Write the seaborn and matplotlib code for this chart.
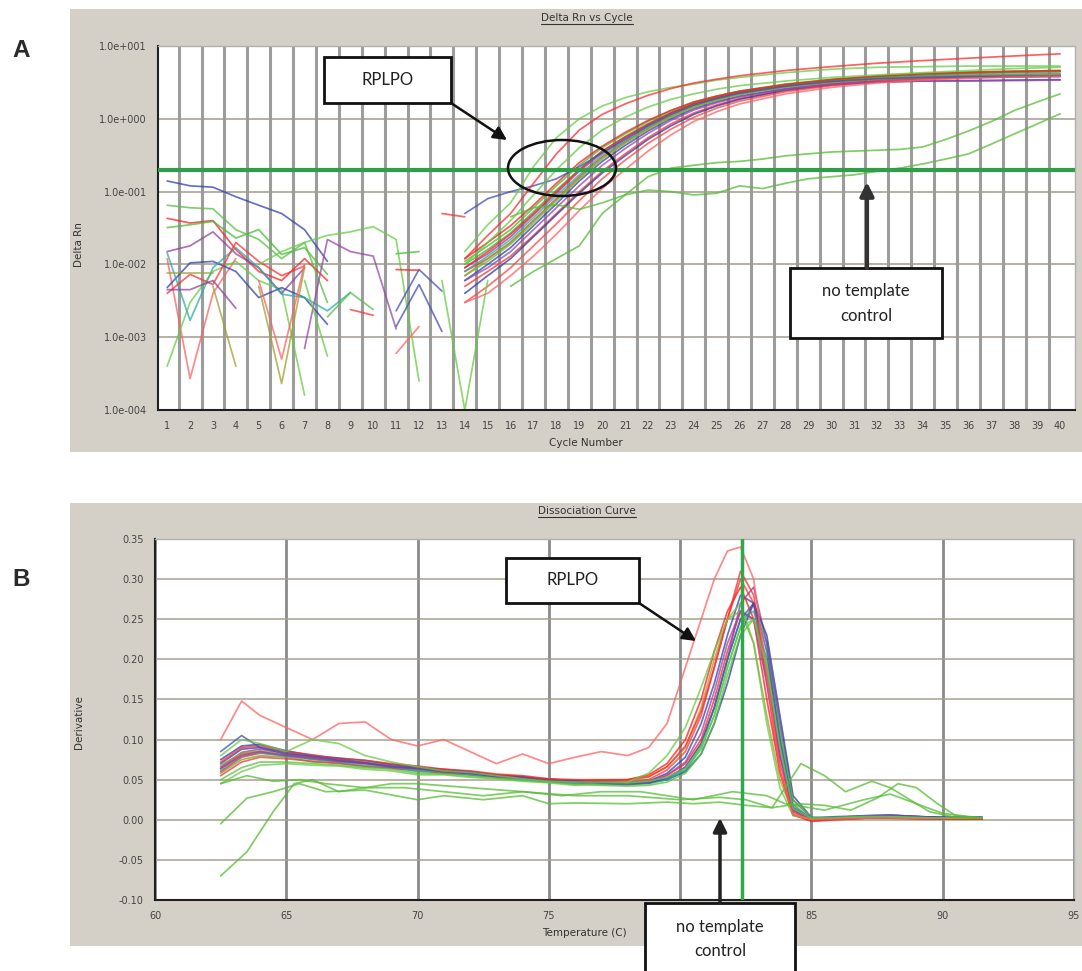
import numpy as np
import pandas as pd
import matplotlib
matplotlib.use('Agg')
import matplotlib.pyplot as plt
import seaborn as sns
from matplotlib.patches import Rectangle, Ellipse, FancyArrowPatch
from matplotlib.lines import Line2D

# ---------------- DATA : amplification plot (panel A) ----------------
AMP_CYCLES = [14, 15, 16, 17, 18, 19, 20, 21, 22, 23, 24, 25, 26, 28, 30, 32, 34, 36, 38, 40]
amp_01 = [0.008, 0.012, 0.02, 0.04, 0.08, 0.16, 0.30, 0.48, 0.75, 1.1, 1.5, 1.85, 2.2, 2.75, 3.2, 3.55, 3.8, 3.9, 4.0, 4.1]
amp_02 = [0.011, 0.018, 0.03, 0.06, 0.12, 0.23, 0.40, 0.62, 0.92, 1.3, 1.7, 2.05, 2.4, 3.0, 3.5, 3.9, 4.2, 4.4, 4.5, 4.6]
amp_03 = [0.006, 0.01, 0.017, 0.034, 0.068, 0.14, 0.26, 0.43, 0.68, 1.0, 1.38, 1.72, 2.05, 2.6, 3.05, 3.35, 3.55, 3.7, 3.75, 3.8]
amp_04 = [0.005, 0.008, 0.013, 0.025, 0.05, 0.10, 0.19, 0.33, 0.55, 0.85, 1.2, 1.55, 1.9, 2.5, 3.0, 3.35, 3.6, 3.75, 3.85, 3.95]
amp_05 = [0.009, 0.014, 0.024, 0.048, 0.095, 0.19, 0.34, 0.54, 0.82, 1.2, 1.6, 1.95, 2.3, 2.85, 3.3, 3.6, 3.75, 3.85, 3.9, 3.95]
amp_06 = [0.007, 0.011, 0.019, 0.037, 0.075, 0.15, 0.28, 0.46, 0.72, 1.05, 1.45, 1.8, 2.15, 2.75, 3.25, 3.65, 3.95, 4.15, 4.3, 4.4]
amp_07 = [0.012, 0.02, 0.034, 0.065, 0.13, 0.25, 0.42, 0.65, 0.95, 1.3, 1.7, 2.05, 2.4, 2.95, 3.4, 3.8, 4.05, 4.25, 4.4, 4.5]
amp_08 = [0.004, 0.007, 0.012, 0.024, 0.048, 0.095, 0.18, 0.31, 0.52, 0.8, 1.15, 1.5, 1.85, 2.45, 2.9, 3.2, 3.3, 3.35, 3.4, 3.45]
amp_09 = [0.008, 0.013, 0.022, 0.044, 0.088, 0.17, 0.32, 0.5, 0.78, 1.12, 1.52, 1.88, 2.22, 2.8, 3.25, 3.6, 3.85, 4.0, 4.1, 4.2]
amp_10 = [0.003, 0.005, 0.009, 0.018, 0.036, 0.075, 0.15, 0.27, 0.46, 0.72, 1.05, 1.4, 1.75, 2.35, 2.85, 3.25, 3.5, 3.7, 3.8, 3.9]
amp_11 = [0.01, 0.016, 0.027, 0.053, 0.105, 0.2, 0.36, 0.57, 0.86, 1.22, 1.62, 1.98, 2.33, 2.9, 3.4, 3.8, 4.1, 4.3, 4.45, 4.55]
amp_12 = [0.007, 0.012, 0.02, 0.04, 0.078, 0.155, 0.29, 0.47, 0.73, 1.07, 1.46, 1.82, 2.17, 2.72, 3.15, 3.5, 3.7, 3.85, 3.95, 4.05]
amp_13 = [0.009, 0.015, 0.026, 0.05, 0.1, 0.2, 0.36, 0.56, 0.84, 1.2, 1.62, 2.0, 2.35, 2.95, 3.45, 3.85, 4.15, 4.35, 4.5, 4.6]
amp_14 = [0.006, 0.009, 0.015, 0.03, 0.06, 0.12, 0.23, 0.39, 0.63, 0.95, 1.32, 1.66, 2.0, 2.55, 2.95, 3.2, 3.3, 3.3, 3.35, 3.4]
amp_15 = [0.05, 0.08, 0.1, 0.12, 0.15, 0.22, 0.34, 0.52, 0.8, 1.15, 1.55, 1.9, 2.25, 2.8, 3.25, 3.55, 3.7, 3.8, 3.85, 3.9]
amp_16 = [0.015, 0.035, 0.07, 0.22, 0.55, 1.0, 1.5, 1.95, 2.35, 2.7, 3.0, 3.4, 3.7, 4.3, 4.8, 5.1, 5.2, 5.3, 5.3, 5.3]
amp_17 = [0.012, 0.025, 0.05, 0.13, 0.33, 0.7, 1.15, 1.6, 2.1, 2.6, 3.1, 3.5, 3.9, 4.6, 5.2, 5.8, 6.3, 6.8, 7.3, 7.8]
amp_18 = [0.003, 0.004, 0.007, 0.013, 0.026, 0.055, 0.11, 0.2, 0.36, 0.6, 0.92, 1.25, 1.6, 2.2, 2.7, 3.1, 3.4, 3.6, 3.75, 3.85]
amp_19 = [0.01, 0.02, 0.04, 0.09, 0.2, 0.4, 0.7, 1.05, 1.45, 1.85, 2.2, 2.55, 2.85, 3.3, 3.7, 4.0, 4.3, 4.6, 4.9, 5.1]
AMP_COLORS = ['#ff2020', '#44bb33', '#3040b0', '#ff3030', '#9040a0', '#55c040', '#ff1a1a', '#2a3aa8',
              '#30a8a8', '#ff4040', '#40b030', '#a0a030', '#ff2020', '#9944aa', '#4050b8', '#66cc44',
              '#ff2a2a', '#ff6060', '#66cc44']

NTC_CYCLES = [16, 17, 18, 19, 20, 21, 22, 23, 24, 25, 26, 27, 28, 29, 30, 31, 32, 33, 34, 35, 36, 37, 38, 39, 40]
ntc_a1 = [0.045, 0.06, 0.066, 0.057, 0.07, 0.09, 0.105, 0.1, 0.09, 0.095, 0.12, 0.11, 0.13, 0.15, 0.16, 0.17,
          0.19, 0.21, 0.24, 0.28, 0.33, 0.45, 0.62, 0.85, 1.17]
ntc_a2 = [0.005, 0.008, 0.012, 0.018, 0.05, 0.09, 0.16, 0.21, 0.23, 0.25, 0.26, 0.28, 0.31, 0.33, 0.35, 0.36,
          0.37, 0.38, 0.41, 0.52, 0.68, 0.92, 1.3, 1.7, 2.2]

# baseline noise fragments: first cycle, values at consecutive cycles
noise_01 = (1, [0.14, 0.12, 0.115, 0.085, 0.065, 0.05, 0.03, 0.011])
noise_02 = (1, [0.043, 0.037, 0.04, 0.016, 0.008, 0.006, 0.012, 0.006])
noise_03 = (1, [0.032, 0.035, 0.039, 0.023, 0.03, 0.0137, 0.017, 0.0073])
noise_04 = (1, [0.065, 0.06, 0.058, 0.03, 0.022, 0.012, 0.02, 0.003])
noise_05 = (1, [0.012, 0.00027, 0.004, 0.012])
noise_06 = (1, [0.0004, 0.003, 0.008, 0.011, 0.006, 0.0045, 0.00016])
noise_07 = (1, [0.015, 0.018, 0.028, 0.014, 0.009, 0.004, 0.009])
noise_08 = (1, [0.0048, 0.0105, 0.011, 0.008, 0.0035, 0.0048, 0.0035, 0.0015])
noise_09 = (1, [0.0144, 0.0017, 0.009, 0.017, 0.009, 0.0039, 0.0035, 0.0023, 0.0041])
noise_10 = (1, [0.004, 0.0073, 0.0053, 0.02, 0.011, 0.007, 0.0095])
noise_11 = (7, [0.0007, 0.022, 0.015, 0.013, 0.0013])
noise_12 = (5, [0.01, 0.015, 0.02, 0.025, 0.028, 0.033, 0.022, 0.00025])
noise_13 = (9, [0.0024, 0.002])
noise_14 = (11, [0.0023, 0.0085, 0.0043])
noise_15 = (11, [0.0014, 0.0053, 0.0012])
noise_16 = (11, [0.0085, 0.0083])
noise_17 = (11, [0.0006, 0.0014])
noise_18 = (13, [0.006, 0.0001, 0.006])
noise_19 = (3, [0.005, 0.0004])
noise_20 = (5, [0.006, 0.0005, 0.01])
noise_21 = (5, [0.005, 0.00023, 0.009])
noise_22 = (7, [0.006, 0.00055])
noise_23 = (8, [0.0019, 0.0041, 0.0024])
noise_24 = (13, [0.05, 0.045])
noise_25 = (1, [0.0075, 0.0075, 0.0075])
noise_26 = (1, [0.0045, 0.0045, 0.006, 0.0025])
noise_27 = (11, [0.014, 0.015])
NOISE_COLORS = ['#3040b0', '#ff2020', '#44bb33', '#55c040', '#ff6060', '#66cc44', '#9040a0', '#3040b0',
                '#30a8a8', '#ff3030', '#9944aa', '#66cc44', '#ff3030', '#4050b8', '#4050b8', '#ff2020',
                '#ff6060', '#66cc44', '#a0a030', '#ff6060', '#a0a030', '#66cc44', '#55c040', '#ff3030',
                '#a0a030', '#9040a0', '#44bb33']

TOP_YTICKS = [1e-4, 1e-3, 1e-2, 1e-1, 1e0, 1e1]
TOP_YLABELS = ['1.0e-004', '1.0e-003', '1.0e-002', '1.0e-001', '1.0e+000', '1.0e+001']
CYCLE_TICKS = list(range(1, 41))
THRESHOLD = 0.2

# ---------------- DATA : dissociation curve (panel B) ----------------
MELT_T = [62.5, 63.3, 64, 65, 66, 67, 68, 69, 70, 71, 72, 73, 74, 75, 76, 77, 78, 78.8, 79.5, 80.2, 80.8,
          81.3, 81.8, 82.3, 82.8, 83.3, 83.8, 84.3, 85, 86, 87, 88, 89, 90, 91.5]
melt_01 = [.064, .082, .085, .080, .076, .073, .070, .066, .063, .060, .058, .054, .052, .048, .047, .046, .045, .046, .055, .070, .10, .15, .21, .26, .25, .19, .09, .015, .001, .002, .003, .004, .003, .002, .002]
melt_02 = [.058, .075, .080, .078, .072, .071, .066, .065, .060, .058, .056, .053, .050, .048, .045, .044, .044, .045, .050, .062, .088, .13, .19, .24, .27, .22, .11, .020, .000, .001, .002, .003, .002, .001, .002]
melt_03 = [.070, .088, .090, .084, .078, .076, .071, .067, .065, .063, .060, .055, .053, .049, .048, .047, .046, .048, .058, .078, .12, .17, .23, .28, .27, .18, .08, .012, .001, .003, .004, .005, .004, .003, .003]
melt_04 = [.066, .084, .088, .082, .078, .074, .071, .065, .062, .061, .056, .054, .050, .047, .046, .045, .044, .046, .052, .066, .095, .14, .20, .27, .29, .22, .12, .025, .002, .003, .005, .006, .004, .002, .002]
melt_05 = [.055, .072, .078, .076, .073, .070, .067, .064, .062, .058, .057, .053, .051, .049, .047, .049, .048, .050, .062, .085, .13, .19, .25, .30, .27, .17, .06, .006, .000, .001, .002, .003, .002, .001, .001]
melt_06 = [.068, .083, .086, .081, .078, .073, .072, .068, .063, .062, .058, .056, .052, .051, .048, .049, .049, .053, .066, .090, .14, .20, .25, .26, .22, .13, .05, .008, .002, .003, .004, .004, .003, .002, .002]
melt_07 = [.075, .092, .094, .086, .080, .077, .074, .069, .066, .062, .060, .056, .054, .050, .049, .047, .046, .047, .050, .060, .082, .12, .17, .23, .27, .23, .13, .030, .003, .002, .003, .004, .004, .003, .003]
melt_08 = [.060, .078, .083, .080, .076, .072, .070, .066, .064, .062, .058, .056, .052, .051, .048, .049, .050, .056, .070, .10, .15, .21, .26, .29, .25, .15, .06, .006, -.002, .000, .002, .002, .001, .001, .001]
melt_09 = [.062, .080, .084, .079, .075, .072, .068, .066, .061, .060, .056, .054, .050, .048, .045, .045, .045, .046, .050, .062, .092, .14, .20, .25, .26, .20, .10, .018, .001, .002, .003, .003, .002, .002, .002]
melt_10 = [.050, .065, .072, .072, .070, .068, .065, .063, .058, .057, .054, .052, .049, .047, .044, .043, .042, .043, .047, .058, .082, .12, .18, .23, .25, .20, .11, .025, .003, .003, .004, .004, .003, .002, .002]
melt_11 = [.072, .090, .092, .085, .081, .076, .074, .070, .067, .063, .061, .057, .055, .051, .050, .050, .050, .054, .066, .092, .135, .19, .25, .31, .28, .18, .07, .010, .000, .001, .002, .003, .002, .002, .001]
melt_12 = [.064, .080, .085, .080, .077, .073, .071, .067, .064, .060, .058, .054, .052, .048, .047, .046, .046, .048, .056, .072, .108, .16, .22, .26, .25, .17, .08, .012, .001, .003, .004, .005, .004, .002, .002]
melt_13 = [.045, .060, .068, .070, .068, .067, .063, .061, .056, .056, .053, .051, .048, .046, .043, .045, .047, .058, .080, .115, .165, .21, .25, .27, .22, .12, .04, .005, .001, .002, .003, .003, .002, .002, .002]
melt_14 = [.085, .105, .090, .082, .079, .074, .071, .066, .064, .060, .058, .054, .052, .049, .048, .046, .045, .046, .052, .065, .095, .14, .20, .25, .27, .21, .10, .015, .002, .004, .005, .006, .004, .003, .003]
melt_15 = [.10, .148, .13, .115, .10, .12, .122, .10, .092, .10, .085, .07, .082, .07, .078, .085, .08, .09, .12, .19, .25, .30, .335, .34, .30, .18, .06, .006, .001, .001, .002, .003, .002, .002, .002]
melt_16 = [.08, .10, .095, .085, .10, .095, .08, .072, .066, .061, .059, .055, .051, .048, .047, .047, .046, .048, .053, .064, .092, .13, .19, .24, .25, .19, .09, .014, .002, .003, .004, .004, .003, .002, .002]
MELT_COLORS = ['#ff2020', '#44bb33', '#3040b0', '#9040a0', '#ff3030', '#a0a030', '#2a3aa8', '#ff1a1a',
               '#30a8a8', '#55c040', '#ff2a2a', '#9944aa', '#66cc44', '#4050b8', '#ff6060', '#66cc44']

ntc_b1_t = [62.5, 63.5, 64.5, 65.3, 66, 67, 68, 69, 70, 72, 74, 76, 78, 80, 81.5, 82.5, 83.5, 84, 84.6, 85.5, 86.3, 87.3, 88, 88.5, 89.5, 90.5, 91.5]
ntc_b1 = [-0.07, -0.04, 0.01, 0.045, 0.05, 0.035, 0.04, 0.045, 0.045, 0.04, 0.035, 0.03, 0.03, 0.025, 0.028, 0.025, 0.015, 0.04, 0.07, 0.055, 0.035, 0.048, 0.04, 0.03, 0.01, 0.003, 0.002]
ntc_b2_t = [62.5, 63.5, 64.5, 65.5, 66.5, 68, 70, 71, 72.5, 74, 75, 76, 78, 79.5, 80.5, 81.5, 82.5, 83.5, 84.5, 85.5, 86.5, 87.5, 88.3, 89, 89.8, 90.5, 91.5]
ntc_b2 = [-0.005, 0.027, 0.035, 0.045, 0.035, 0.037, 0.025, 0.03, 0.025, 0.03, 0.02, 0.021, 0.02, 0.022, 0.02, 0.022, 0.018, 0.015, 0.02, 0.018, 0.012, 0.027, 0.045, 0.04, 0.02, 0.005, 0.002]
ntc_b3_t = [62.5, 63.5, 64.5, 65.5, 66.5, 68, 69.5, 71, 72.5, 74, 75.5, 77, 78.5, 79.5, 80.5, 82, 83.3, 84, 85.5, 87, 88, 89, 90, 91.5]
ntc_b3 = [0.045, 0.055, 0.048, 0.05, 0.045, 0.04, 0.04, 0.035, 0.03, 0.035, 0.03, 0.035, 0.035, 0.03, 0.025, 0.035, 0.03, 0.02, 0.012, 0.025, 0.032, 0.02, 0.008, 0.002]
NTC_COLOR = '#55bb33'

MELT_YTICKS = [-0.10, -0.05, 0.00, 0.05, 0.10, 0.15, 0.20, 0.25, 0.30, 0.35]
MELT_YLABELS = ['-0.10', '-0.05', '0.00', '0.05', '0.10', '0.15', '0.20', '0.25', '0.30', '0.35']
MELT_XTICKS = [60, 65, 70, 75, 80, 85, 90, 95]
MELT_MARKER_T = 82.35

# ---------------- FIGURE ----------------
W, H = 1082, 971
sns.set_theme(style='white')
plt.rcParams['font.family'] = ['DejaVu Sans']

fig = plt.figure(figsize=(W / 100, H / 100), dpi=100)
fig.patch.set_facecolor('white')


def fx(x):
    return x / W


def fy(y):
    return 1 - y / H


PANEL = '#d4d0c8'
fig.add_artist(Rectangle((fx(70), fy(452)), fx(1082) - fx(70), fy(9) - fy(452),
                         transform=fig.transFigure, facecolor=PANEL, edgecolor='none', zorder=0))
fig.add_artist(Rectangle((fx(70), fy(946)), fx(1082) - fx(70), fy(503) - fy(946),
                         transform=fig.transFigure, facecolor=PANEL, edgecolor='none', zorder=0))

ax1 = fig.add_axes([fx(158), fy(410), fx(1075) - fx(158), fy(46) - fy(410)])
ax2 = fig.add_axes([fx(155), fy(900), fx(1074) - fx(155), fy(539) - fy(900)])

TICKCOL = '#444444'
LW = 1.25

# ----- panel A -----
rows, pal = [], {}
amp_list = [amp_01, amp_02, amp_03, amp_04, amp_05, amp_06, amp_07, amp_08, amp_09, amp_10,
            amp_11, amp_12, amp_13, amp_14, amp_15, amp_16, amp_17, amp_18, amp_19]
for i, (vals, col) in enumerate(zip(amp_list, AMP_COLORS)):
    key = f'amp{i}'
    pal[key] = col
    rows += [(key, c, v) for c, v in zip(AMP_CYCLES, vals)]
for i, vals in enumerate([ntc_a1, ntc_a2]):
    key = f'ntc{i}'
    pal[key] = '#55bb33'
    rows += [(key, c, v) for c, v in zip(NTC_CYCLES, vals)]
noise_list = [noise_01, noise_02, noise_03, noise_04, noise_05, noise_06, noise_07, noise_08, noise_09,
              noise_10, noise_11, noise_12, noise_13, noise_14, noise_15, noise_16, noise_17, noise_18,
              noise_19, noise_20, noise_21, noise_22, noise_23, noise_24, noise_25, noise_26, noise_27]
for i, ((start, vals), col) in enumerate(zip(noise_list, NOISE_COLORS)):
    key = f'noise{i}'
    pal[key] = col
    rows += [(key, start + k, v) for k, v in enumerate(vals)]
df_amp = pd.DataFrame(rows, columns=['well', 'cycle', 'rn'])

sns.lineplot(data=df_amp, x='cycle', y='rn', hue='well', palette=pal, estimator=None, sort=False,
             legend=False, ax=ax1, linewidth=LW, alpha=0.75)
ax1.set_yscale('log')
ax1.set_ylim(1e-4, 10)
ax1.set_xlim(0.6, 40.65)
ax1.set_yticks(TOP_YTICKS)
ax1.set_yticklabels(TOP_YLABELS)
ax1.yaxis.set_minor_locator(matplotlib.ticker.NullLocator())
ax1.set_xticks(CYCLE_TICKS)
ax1.set_xticklabels([str(c) for c in CYCLE_TICKS])
ax1.set_xticks([c + 0.5 for c in CYCLE_TICKS[:-1]], minor=True)
ax1.grid(False)
ax1.grid(True, which='minor', axis='x', color='#9c9c9c', linewidth=2.2)
ax1.grid(True, which='major', axis='y', color='#a39a8c', linewidth=1.1)
ax1.set_axisbelow(True)
ax1.axhline(THRESHOLD, color='#2e9e48', linewidth=3, zorder=5)
ax1.set_xlabel('')
ax1.set_ylabel('')

# ----- panel B -----
rows, pal2 = [], {}
melt_list = [melt_01, melt_02, melt_03, melt_04, melt_05, melt_06, melt_07, melt_08, melt_09, melt_10,
             melt_11, melt_12, melt_13, melt_14, melt_15, melt_16]
for i, (vals, col) in enumerate(zip(melt_list, MELT_COLORS)):
    key = f'melt{i}'
    pal2[key] = col
    rows += [(key, t, v) for t, v in zip(MELT_T, vals)]
for i, (ts, vals) in enumerate([(ntc_b1_t, ntc_b1), (ntc_b2_t, ntc_b2), (ntc_b3_t, ntc_b3)]):
    key = f'ntcb{i}'
    pal2[key] = NTC_COLOR
    rows += [(key, t, v) for t, v in zip(ts, vals)]
df_melt = pd.DataFrame(rows, columns=['well', 'temp', 'deriv'])
sns.lineplot(data=df_melt, x='temp', y='deriv', hue='well', palette=pal2, estimator=None, sort=False,
             legend=False, ax=ax2, linewidth=LW, alpha=0.75)
ax2.set_xlim(60, 95)
ax2.set_ylim(-0.10, 0.35)
ax2.set_yticks(MELT_YTICKS)
ax2.set_yticklabels(MELT_YLABELS)
ax2.set_xticks(MELT_XTICKS)
ax2.set_xticklabels([str(t) for t in MELT_XTICKS])
ax2.grid(False)
ax2.grid(True, which='major', axis='x', color='#8a8a8a', linewidth=2)
ax2.grid(True, which='major', axis='y', color='#a8a090', linewidth=1.1)
ax2.set_axisbelow(True)
ax2.axvline(MELT_MARKER_T, color='#2ea84a', linewidth=2.5, zorder=5)
ax2.set_xlabel('')
ax2.set_ylabel('')

for ax in (ax1, ax2):
    ax.set_facecolor('white')
    for side in ('left', 'bottom'):
        ax.spines[side].set_color('#202020')
        ax.spines[side].set_linewidth(1.5)
    for side in ('top', 'right'):
        ax.spines[side].set_color('#b0b0b0')
        ax.spines[side].set_linewidth(1.0)
    ax.tick_params(axis='both', which='both', length=0, labelsize=7, labelcolor=TICKCOL, pad=8)

# ----- texts -----
small = dict(fontsize=7.5, color='#333333')
t1 = fig.text(fx(587), fy(18), 'Delta Rn vs Cycle', ha='center', va='center', **small)
t2 = fig.text(fx(587), fy(511), 'Dissociation Curve', ha='center', va='center', **small)
fig.text(fx(586), fy(443), 'Cycle Number', ha='center', va='center', **small)
fig.text(fx(584), fy(933), 'Temperature (C)', ha='center', va='center', **small)
fig.text(fx(79), fy(245), 'Delta Rn', ha='center', va='center', rotation=90, **small)
fig.text(fx(79), fy(722), 'Derivative', ha='center', va='center', rotation=90, **small)

letter = dict(fontsize=17.5, fontweight='bold', color='#2a2a2a', family=['Liberation Sans', 'DejaVu Sans'])
fig.text(fx(21), fy(50), 'A', ha='center', va='center', **letter)
fig.text(fx(21), fy(579), 'B', ha='center', va='center', **letter)

fig.canvas.draw()
rend = fig.canvas.get_renderer()
for t in (t1, t2):
    bb = t.get_window_extent(renderer=rend)
    fig.add_artist(Line2D([bb.x0 / W, bb.x1 / W], [(bb.y0 - 1) / H, (bb.y0 - 1) / H],
                          transform=fig.transFigure, color='#333333', linewidth=0.8))

# ----- annotations -----
ann_font = dict(fontsize=12, family=['Lato', 'DejaVu Sans'], color='#222222')


def box(x0, y0, x1, y1):
    fig.add_artist(Rectangle((fx(x0), fy(y1)), fx(x1) - fx(x0), fy(y0) - fy(y1), transform=fig.transFigure,
                             facecolor='white', edgecolor='#111111', linewidth=2, zorder=20))


def arrow(xa, ya, xb, yb, lw=1.8, col='#111111'):
    fig.add_artist(FancyArrowPatch((fx(xa), fy(ya)), (fx(xb), fy(yb)), transform=fig.transFigure,
                                   arrowstyle='-|>', mutation_scale=20, linewidth=lw, color=col,
                                   shrinkA=0, shrinkB=0, zorder=21))


box(324, 57, 451, 103)
fig.text(fx(387.5), fy(80), 'RPLPO', ha='center', va='center', zorder=22, **ann_font)
arrow(451, 103, 507, 140)
fig.add_artist(Ellipse((fx(562), fy(168)), 108 / W, 56 / H, transform=fig.transFigure,
                       facecolor='none', edgecolor='#111111', linewidth=1.8, zorder=21))

box(790, 268, 942, 338)
fig.text(fx(866), fy(291), 'no template', ha='center', va='center', zorder=22, **ann_font)
fig.text(fx(866), fy(316), 'control', ha='center', va='center', zorder=22, **ann_font)
arrow(867, 268, 867, 182, lw=3, col='#333333')

box(506, 558, 639, 603)
fig.text(fx(572.5), fy(580), 'RPLPO', ha='center', va='center', zorder=22, **ann_font)
arrow(639, 603, 696, 641)

box(645, 903, 795, 980)
fig.text(fx(720), fy(927), 'no template', ha='center', va='center', zorder=22, **ann_font)
fig.text(fx(720), fy(951), 'control', ha='center', va='center', zorder=22, **ann_font)
arrow(720, 903, 720, 818, lw=2.5, col='#222222')

fig.savefig('out.png', dpi=100, facecolor='white')
